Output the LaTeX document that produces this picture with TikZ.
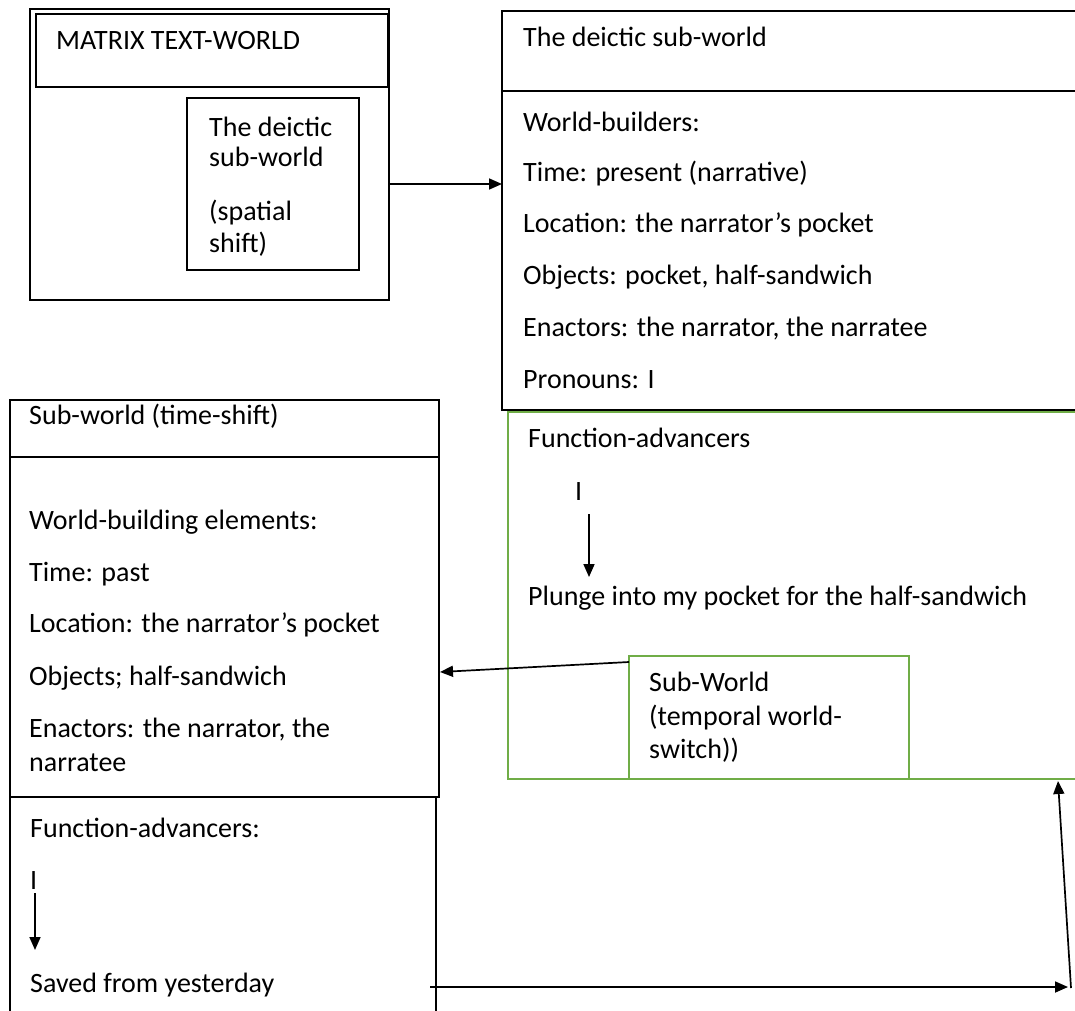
\documentclass[tikz,border=0pt]{standalone}
\usepackage{fontspec}
\setmainfont{Carlito}
\usetikzlibrary{arrows.meta,calc}
\definecolor{grn}{RGB}{112,173,71}

\begin{document}
\begin{tikzpicture}[x=1pt,y=-1pt,
  box/.style={draw=black, line width=2.2pt, inner sep=0pt, outer sep=0pt, anchor=north west},
  gbox/.style={box, draw=grn},
  txt/.style={anchor=west, inner sep=0pt, text height=19pt, text depth=0pt,
              font=\fontsize{28}{34}\selectfont},
  link/.style={line width=1.7pt, -{Triangle[length=13pt,width=11pt]}}]
\useasboundingbox (0,0) rectangle (1075,1010);

% matrix text-world with the spatial sub-world inside
\node[box, minimum width=359pt, minimum height=291pt] (matrix) at (30,9) {};
\node[box, minimum width=352pt, minimum height=73pt] (matrixhead) at (36,14) {};
\node[box, minimum width=172pt, minimum height=172pt] (spatial) at (187,98) {};
\node[txt] (tmatrix) at (56,40) {MATRIX TEXT-WORLD};
\node[txt] (sp1) at (209,127) {The deictic};
\node[txt] (sp2) at (209,157) {sub-world};
\node[txt] (sp3) at (209,211) {(spatial};
\node[txt] (sp4) at (209,243) {shift)};

% deictic sub-world
\node[box, minimum width=600pt, minimum height=80pt] (dhead) at (502,11) {};
\node[box, minimum width=600pt, minimum height=319pt] (dbody) at (502,91) {};
\node[txt] (dtitle) at (523,37) {The deictic sub-world};
\node[txt] (d1) at (523,122) {World-builders:};
\node[txt] (d2) at (523,172) {Time: present (narrative)};
\node[txt] (d3) at (523,223) {Location: the narrator’s pocket};
\node[txt] (d4) at (523,275) {Objects: pocket, half-sandwich};
\node[txt] (d5) at (523,327) {Enactors: the narrator, the narratee};
\node[txt] (d6) at (523,379) {Pronouns: I};

% function-advancers of the deictic sub-world
\node[gbox, minimum width=600pt, minimum height=367pt] (fadv) at (508,412) {};
\node[gbox, minimum width=280pt, minimum height=123pt] (switch) at (629,656) {};
\node[txt] (f1) at (528,438) {Function-advancers};
\node[txt] (fI) at (575,491) {I};
\node[txt] (f2) at (528,596) {Plunge into my pocket for the half-sandwich};
\node[txt] (s1) at (649,682) {Sub-World};
\node[txt] (s2) at (649,716) {(temporal world-};
\node[txt] (s3) at (649,749) {switch))};

% time-shifted sub-world
\node[box, minimum width=429pt, minimum height=57pt] (thead) at (10,400) {};
\node[box, minimum width=429pt, minimum height=340pt] (tbody) at (10,457) {};
\node[box, minimum width=426pt, minimum height=240pt] (tfadv) at (10,797) {};
\node[txt] (ttitle) at (29,415) {Sub-world (time-shift)};
\node[txt] (t1) at (29,520) {World-building elements:};
\node[txt] (t2) at (29,572) {Time: past};
\node[txt] (t3) at (29,623) {Location: the narrator’s pocket};
\node[txt] (t4) at (29,676) {Objects; half-sandwich};
\node[txt] (t5) at (29,728) {Enactors: the narrator, the};
\node[txt] (t6) at (29,762) {narratee};
\node[txt] (u1) at (30,828) {Function-advancers:};
\node[txt] (uI) at (30,880) {I};
\node[txt] (u2) at (30,983) {Saved from yesterday};

% connectors
\draw[link] (spatial.east -| matrix.east) -- (spatial.east -| dbody.west);
\draw[link] (589,514) coordinate (fa) -- (589,577) coordinate (fb);
\draw[link] (35,893) coordinate (ua) -- (35,950) coordinate (ub);
\draw[link] ($(switch.north west)+(0,6)$) -- ($(tbody.east)+(1,45)$);
\coordinate (sstart) at (430,987);
\coordinate (sturn) at (1068,987);
\coordinate (rbase) at (1071,988);
\coordinate (rtop) at (1058,781);
\draw[link] (sstart) -- (sturn);
\draw[link] (rbase) -- (rtop);
\end{tikzpicture}
\end{document}
